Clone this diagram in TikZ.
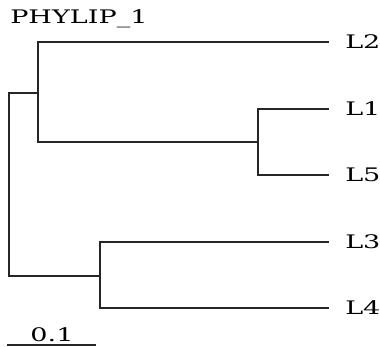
\documentclass[tikz,border=0pt]{standalone}
\usepackage{fontspec}
\newfontfamily\treefont[FakeStretch=1.45]{DejaVu Serif}
\begin{document}
\begin{tikzpicture}[x=0.75pt,y=-0.75pt,
  branch/.style={draw=black!85,line width=0.8pt,line cap=rect},
  leaflabel/.style={anchor=base west,inner sep=0pt,font=\treefont\fontsize{14}{16}\selectfont},
  titlelabel/.style={anchor=base west,inner sep=0pt,font=\treefont\fontsize{14}{16}\selectfont}]
\useasboundingbox (0,0) rectangle (380,347);
% internal nodes
\coordinate (r1) at (9,93);
\coordinate (r2) at (9,276);
\coordinate (a) at (38,93);
\coordinate (a1) at (38,42);
\coordinate (a2) at (38,142);
\coordinate (b) at (258,142);
\coordinate (b1) at (258,109);
\coordinate (b2) at (258,175);
\coordinate (c) at (100,276);
\coordinate (c1) at (100,242);
\coordinate (c2) at (100,308);
% tips
\coordinate (t2) at (328,42);
\coordinate (t1) at (328,109);
\coordinate (t5) at (328,175);
\coordinate (t3) at (328,242);
\coordinate (t4) at (328,308);
% labels
\node[titlelabel] (title) at (10,23) {PHYLIP\_1};
\node[leaflabel] (L2) at (345,48) {L2};
\node[leaflabel] (L1) at (345,115) {L1};
\node[leaflabel] (L5) at (345,181) {L5};
\node[leaflabel] (L3) at (345,248) {L3};
\node[leaflabel] (L4) at (345,314) {L4};
% branches
\draw[branch] (r1) -- (r2);
\draw[branch] (r1) -- (a);
\draw[branch] (r2) -- (c);
\draw[branch] (a1) -- (a2);
\draw[branch] (a1) -- (t2);
\draw[branch] (a2) -- (b);
\draw[branch] (b1) -- (b2);
\draw[branch] (b1) -- (t1);
\draw[branch] (b2) -- (t5);
\draw[branch] (c1) -- (c2);
\draw[branch] (c1) -- (t3);
\draw[branch] (c2) -- (t4);
% scale bar
\coordinate (s1) at (8,345);
\coordinate (s2) at (95,345);
\draw[branch] (s1) -- (s2);
\node[leaflabel,anchor=base] (scale) at (52,341) {0.1};
\end{tikzpicture}
\end{document}
